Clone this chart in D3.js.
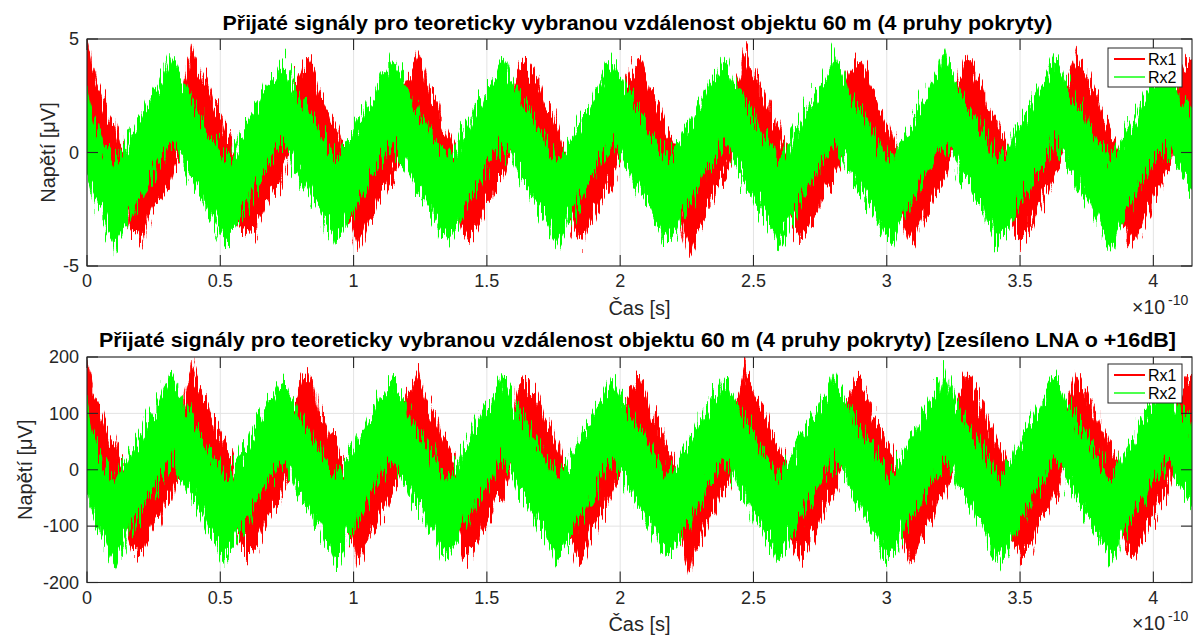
<!DOCTYPE html>
<html><head><meta charset="utf-8">
<script src="https://cdn.jsdelivr.net/npm/d3@7"></script>
<style>
body{margin:0;background:#fff}
svg{display:block}
text{font-family:"Liberation Sans",Arial,Helvetica,sans-serif}
</style>
</head><body>
<svg id="chart" width="1194" height="637"></svg>
<script>
// ---------------- data ----------------
const sampleStep = 0.02073;           // sampling interval of the envelope, in 1e-10 s
const xDomainMax = 4.145;             // right limit of the time axis, in 1e-10 s
const xTicks = [0, 0.5, 1, 1.5, 2, 2.5, 3, 3.5, 4];
const xTickLabels = ["0", "0.5", "1", "1.5", "2", "2.5", "3", "3.5", "4"];
const topYTicks = [-5, 0, 5];
const topYTickLabels = ["-5", "0", "5"];
const bottomYTicks = [-200, -100, 0, 100, 200];
const bottomYTickLabels = ["-200", "-100", "0", "100", "200"];
const seriesNames = ["Rx1", "Rx2"];
const titles = [
  "Přijaté signály pro teoreticky vybranou vzdálenost objektu 60 m (4 pruhy pokryty)",
  "Přijaté signály pro teoreticky vybranou vzdálenost objektu 60 m (4 pruhy pokryty) [zesíleno LNA o +16dB]"
];
const xLabel = "Čas [s]";
const yLabel = "Napětí [μV]";

// Top panel, μV: upper / lower envelope of the noisy signals
const rx1TopHi = [5.0,3.7,2.8,2.2,1.5,1.2,0.4,0.1,-0.5,-0.8,-0.5,-0.3,0.6,0.6,1.3,1.7,2.4,2.6,3.5,4.7,
3.9,3.3,2.9,2.0,1.8,1.0,0.7,0.0,-0.2,-0.9,-0.6,0.0,0.3,1.0,1.4,1.6,2.5,2.9,3.2,4.0,
4.2,3.6,2.6,2.3,1.5,1.2,0.5,0.3,-0.4,-0.7,-0.4,0.1,0.4,0.8,1.5,1.9,2.2,3.0,3.4,3.8,
4.4,3.5,2.7,2.4,1.6,1.1,0.6,0.2,-0.3,-0.8,-0.5,-0.1,0.5,0.9,1.3,1.8,2.3,2.8,3.6,3.9,
3.7,3.4,2.9,2.1,1.8,1.2,0.4,0.1,-0.3,-0.9,-0.6,-0.2,0.4,1.1,1.3,1.9,2.2,2.9,3.3,3.8,
4.1,3.5,2.6,2.2,1.7,1.0,0.6,0.0,-0.4,-0.8,-0.6,0.0,0.5,0.9,1.4,1.7,2.4,2.7,3.4,4.5,
3.9,3.3,2.8,2.3,1.5,1.1,0.5,0.2,-0.3,-0.9,-0.5,-0.1,0.4,1.0,1.4,1.8,2.3,3.0,3.5,4.0,
3.8,3.4,2.7,2.2,1.7,1.2,0.5,0.1,-0.4,-0.8,-0.5,0.0,0.5,0.8,1.4,1.8,2.4,2.8,3.5,4.2,
3.9,3.3,2.9,2.1,1.6,1.1,0.6,0.0,-0.3,-0.9,-0.6,-0.1,0.4,0.9,1.3,1.9,2.3,2.9,3.4,4.3,
3.8,3.4,2.8,2.2,1.6,1.0,0.6,0.1,-0.4,-0.8,-0.5,0.0,0.4,1.0,1.3,1.8,2.4,2.9,3.5,4.0,
4.1];
const rx1TopLo = [0.9,0.3,-0.4,-0.6,-1.4,-1.6,-2.3,-2.7,-3.6,-3.7,-4.0,-3.1,-2.4,-2.2,-1.6,-1.4,-0.5,-0.2,0.5,0.9,
0.8,0.2,-0.2,-0.9,-1.1,-1.7,-2.2,-3.0,-3.4,-3.6,-3.6,-3.2,-2.5,-2.0,-1.5,-1.2,-0.6,-0.1,0.4,0.8,
0.6,0.1,-0.3,-0.8,-1.2,-1.9,-2.1,-2.9,-3.3,-4.2,-3.7,-3.0,-2.6,-1.9,-1.7,-1.1,-0.7,0.0,0.3,0.9,
0.7,0.3,-0.4,-0.7,-1.3,-1.8,-2.3,-2.7,-3.5,-3.9,-3.5,-3.1,-2.4,-2.1,-1.5,-1.3,-0.6,0.0,0.4,0.8,
0.8,0.2,-0.3,-0.9,-1.2,-1.8,-2.2,-2.8,-3.3,-4.0,-3.8,-3.0,-2.6,-2.0,-1.6,-1.2,-0.5,-0.1,0.5,0.9,
0.6,0.2,-0.4,-0.7,-1.3,-1.8,-2.3,-2.8,-3.5,-4.5,-3.7,-3.2,-2.5,-2.0,-1.6,-1.1,-0.7,0.0,0.3,0.8,
0.7,0.2,-0.3,-0.8,-1.2,-1.9,-2.2,-2.9,-3.4,-3.8,-3.6,-3.1,-2.7,-2.0,-1.5,-1.2,-0.6,0.0,0.4,0.8,
0.6,0.3,-0.4,-0.8,-1.1,-1.8,-2.4,-2.7,-3.4,-4.1,-3.7,-3.0,-2.6,-2.1,-1.5,-1.2,-0.6,-0.1,0.4,0.9,
0.7,0.1,-0.3,-0.8,-1.3,-1.7,-2.3,-2.9,-3.5,-3.9,-3.6,-3.3,-2.5,-2.0,-1.6,-1.1,-0.6,0.0,0.3,0.8,
0.6,0.2,-0.4,-0.8,-1.2,-1.8,-2.2,-2.8,-3.4,-4.0,-3.7,-3.1,-2.6,-2.0,-1.6,-1.1,-0.6,0.0,0.4,0.8,
0.7];
const rx2TopHi = [2.9,1.4,0.9,0.4,0.1,-0.4,-0.1,0.3,0.8,1.3,1.7,2.2,2.6,3.0,3.6,4.2,3.7,3.1,2.8,2.3,
1.8,1.5,0.9,0.6,0.2,-0.3,-0.1,0.4,0.9,1.2,1.8,2.1,2.7,3.1,3.4,3.9,3.8,3.2,2.6,2.2,
1.9,1.4,1.0,0.5,0.1,-0.2,0.0,0.5,0.8,1.4,1.7,2.3,2.6,3.2,3.5,4.0,3.6,3.3,2.7,2.1,
1.8,1.5,0.8,0.6,0.1,-0.3,0.0,0.3,0.9,1.3,1.8,2.2,2.8,3.0,3.5,4.1,3.7,3.1,2.7,2.3,
1.9,1.3,1.0,0.5,0.2,-0.3,-0.1,0.4,0.8,1.3,1.8,2.1,2.7,3.1,3.6,4.1,3.6,3.2,2.6,2.2,
1.8,1.4,0.9,0.5,0.1,-0.2,0.0,0.4,0.9,1.2,1.7,2.2,2.7,3.2,3.4,4.0,3.8,3.1,2.7,2.2,
1.9,1.5,0.8,0.6,0.2,-0.3,-0.1,0.3,0.9,1.3,1.8,2.3,2.6,3.1,3.5,4.3,3.7,3.2,2.7,2.1,
1.9,1.4,1.0,0.5,0.1,-0.3,0.0,0.4,0.8,1.4,1.7,2.2,2.7,3.2,3.6,4.5,3.7,3.2,2.6,2.2,
1.8,1.4,0.9,0.5,0.1,-0.3,0.0,0.3,0.9,1.3,1.8,2.2,2.6,3.1,3.5,4.1,3.8,3.1,2.7,2.2,
1.9,1.4,0.9,0.5,0.2,-0.3,-0.1,0.4,0.9,1.3,1.7,2.3,2.7,3.1,3.5,4.1,3.7,3.1,2.6,2.2,
1.8];
const rx2TopLo = [-1.0,-1.9,-2.4,-2.9,-3.6,-4.3,-3.7,-3.2,-2.6,-2.2,-1.8,-1.3,-0.9,-0.5,-0.1,0.4,0.2,-0.3,-0.8,-1.2,
-1.6,-2.1,-2.6,-3.0,-3.5,-3.9,-3.6,-3.1,-2.7,-2.3,-1.8,-1.4,-0.9,-0.4,-0.1,0.3,0.1,-0.4,-0.9,-1.3,
-1.7,-2.2,-2.5,-3.1,-3.4,-4.0,-3.8,-3.0,-2.8,-2.2,-1.9,-1.3,-0.8,-0.5,0.0,0.3,0.1,-0.4,-0.8,-1.4,
-1.7,-2.0,-2.6,-3.0,-3.6,-3.8,-3.6,-3.2,-2.6,-2.1,-1.7,-1.4,-0.9,-0.4,-0.1,0.4,0.1,-0.3,-0.9,-1.3,
-1.6,-2.1,-2.6,-2.9,-3.5,-4.1,-3.7,-3.1,-2.7,-2.2,-1.8,-1.3,-0.9,-0.4,0.0,0.3,0.1,-0.4,-0.8,-1.3,
-1.7,-2.1,-2.5,-3.0,-3.5,-3.9,-3.7,-3.2,-2.6,-2.3,-1.8,-1.4,-0.8,-0.5,-0.1,0.4,0.2,-0.3,-0.9,-1.2,
-1.6,-2.2,-2.5,-3.1,-3.4,-4.0,-3.6,-3.1,-2.7,-2.2,-1.7,-1.3,-0.9,-0.4,-0.1,0.3,0.1,-0.4,-0.8,-1.3,
-1.7,-2.1,-2.6,-3.0,-3.6,-3.9,-3.7,-3.1,-2.6,-2.2,-1.8,-1.4,-0.9,-0.4,0.0,0.3,0.1,-0.3,-0.9,-1.2,
-1.6,-2.2,-2.5,-3.1,-3.5,-4.0,-3.6,-3.2,-2.6,-2.1,-1.8,-1.3,-0.9,-0.5,-0.1,0.4,0.1,-0.4,-0.8,-1.3,
-1.7,-2.1,-2.6,-3.0,-3.5,-4.1,-3.7,-3.1,-2.6,-2.2,-1.8,-1.4,-0.9,-0.4,-0.1,0.3,0.1,-0.4,-0.8,-1.3,
-1.7];

// Bottom panel (after LNA), μV
const rx1BotHi = [200,148,112,88,60,48,16,4,-20,-32,-20,-12,24,24,52,68,96,104,140,188,
156,132,116,80,72,40,28,0,-8,-36,-24,0,12,40,56,64,100,116,128,160,
168,144,104,92,60,48,20,12,-16,-28,-16,4,16,32,60,76,88,120,136,152,
176,140,108,96,64,44,24,8,-12,-32,-20,-4,20,36,52,72,92,112,144,156,
148,136,116,84,72,48,16,4,-12,-36,-24,-8,16,44,52,76,88,116,132,152,
164,140,104,88,68,40,24,0,-16,-32,-24,0,20,36,56,68,96,108,136,180,
156,132,112,92,60,44,20,8,-12,-36,-20,-4,16,40,56,72,92,120,140,160,
152,136,108,88,68,48,20,4,-16,-32,-20,0,20,32,56,72,96,112,140,168,
156,132,116,84,64,44,24,0,-12,-36,-24,-4,16,36,52,76,92,116,136,172,
152,136,112,88,64,40,24,4,-16,-32,-20,0,16,40,52,72,96,116,140,160,
164];
const rx1BotLo = [36,12,-16,-24,-56,-64,-92,-108,-144,-148,-160,-124,-96,-88,-64,-56,-20,-8,20,36,
32,8,-8,-36,-44,-68,-88,-120,-136,-144,-144,-128,-100,-80,-60,-48,-24,-4,16,32,
24,4,-12,-32,-48,-76,-84,-116,-132,-168,-148,-120,-104,-76,-68,-44,-28,0,12,36,
28,12,-16,-28,-52,-72,-92,-108,-140,-156,-140,-124,-96,-84,-60,-52,-24,0,16,32,
32,8,-12,-36,-48,-72,-88,-112,-132,-160,-152,-120,-104,-80,-64,-48,-20,-4,20,36,
24,8,-16,-28,-52,-72,-92,-112,-140,-180,-148,-128,-100,-80,-64,-44,-28,0,12,32,
28,8,-12,-32,-48,-76,-88,-116,-136,-152,-144,-124,-108,-80,-60,-48,-24,0,16,32,
24,12,-16,-32,-44,-72,-96,-108,-136,-164,-148,-120,-104,-84,-60,-48,-24,-4,16,36,
28,4,-12,-32,-52,-68,-92,-116,-140,-156,-144,-132,-100,-80,-64,-44,-24,0,12,32,
24,8,-16,-32,-48,-72,-88,-112,-136,-160,-148,-124,-104,-80,-64,-44,-24,0,16,32,
28];
const rx2BotHi = [116,56,36,16,4,-16,-4,12,32,52,68,88,104,120,144,168,148,124,112,92,
72,60,36,24,8,-12,-4,16,36,48,72,84,108,124,136,156,152,128,104,88,
76,56,40,20,4,-8,0,20,32,56,68,92,104,128,140,160,144,132,108,84,
72,60,32,24,4,-12,0,12,36,52,72,88,112,120,140,164,148,124,108,92,
76,52,40,20,8,-12,-4,16,32,52,72,84,108,124,144,164,144,128,104,88,
72,56,36,20,4,-8,0,16,36,48,68,88,108,128,136,160,152,124,108,88,
76,60,32,24,8,-12,-4,12,36,52,72,92,104,124,140,172,148,128,108,84,
76,56,40,20,4,-12,0,16,32,56,68,88,108,128,144,180,148,128,104,88,
72,56,36,20,4,-12,0,12,36,52,72,88,104,124,140,164,152,124,108,88,
76,56,36,20,8,-12,-4,16,36,52,68,92,108,124,140,164,148,124,104,88,
72];
const rx2BotLo = [-40,-76,-96,-116,-144,-172,-148,-128,-104,-88,-72,-52,-36,-20,-4,16,8,-12,-32,-48,
-64,-84,-104,-120,-140,-156,-144,-124,-108,-92,-72,-56,-36,-16,-4,12,4,-16,-36,-52,
-68,-88,-100,-124,-136,-160,-152,-120,-112,-88,-76,-52,-32,-20,0,12,4,-16,-32,-56,
-68,-80,-104,-120,-144,-152,-144,-128,-104,-84,-68,-56,-36,-16,-4,16,4,-12,-36,-52,
-64,-84,-104,-116,-140,-164,-148,-124,-108,-88,-72,-52,-36,-16,0,12,4,-16,-32,-52,
-68,-84,-100,-120,-140,-156,-148,-128,-104,-92,-72,-56,-32,-20,-4,16,8,-12,-36,-48,
-64,-88,-100,-124,-136,-160,-144,-124,-108,-88,-68,-52,-36,-16,-4,12,4,-16,-32,-52,
-68,-84,-104,-120,-144,-156,-148,-124,-104,-88,-72,-56,-36,-16,0,12,4,-12,-36,-48,
-64,-88,-100,-124,-140,-160,-144,-128,-104,-84,-72,-52,-36,-20,-4,16,4,-16,-32,-52,
-68,-84,-104,-120,-140,-164,-148,-124,-104,-88,-72,-56,-36,-16,-4,12,4,-16,-32,-52,
-68];

// ---------------- drawing ----------------
const svg = d3.select("#chart");
const colors = ["#ff0000", "#00ff00"];
const axisColor = "#262626";

// rendering texture: makes the envelope edges look like a dense noisy trace
const defs = svg.append("defs");
const filt = defs.append("filter").attr("id", "trace").attr("x", "-2%").attr("y", "-40%")
  .attr("width", "104%").attr("height", "180%").attr("color-interpolation-filters", "sRGB");
filt.append("feTurbulence").attr("type", "fractalNoise").attr("baseFrequency", "0.55 0.035")
  .attr("numOctaves", 2).attr("seed", 7).attr("result", "n");
filt.append("feColorMatrix").attr("in", "n").attr("type", "matrix")
  .attr("values", "0 0 0 0 0.5  1 0 0 0 0  0 0 0 0 0  0 0 0 0 1").attr("result", "m");
filt.append("feDisplacementMap").attr("in", "SourceGraphic").attr("in2", "m")
  .attr("scale", 55).attr("xChannelSelector", "R").attr("yChannelSelector", "G");

const panels = [
  { top: 39, bottom: 266, yDomain: [-5, 5], yTicks: topYTicks, yTickLabels: topYTickLabels,
    title: titles[0], titleWidth: 830, titleY: 29.5, yLabelX: 54.5, legendY: 48,
    series: [[rx1TopHi, rx1TopLo], [rx2TopHi, rx2TopLo]] },
  { top: 357, bottom: 582.5, yDomain: [-200, 200], yTicks: bottomYTicks, yTickLabels: bottomYTickLabels,
    title: titles[1], titleWidth: 1077, titleY: 347, yLabelX: 31.5, legendY: 364,
    series: [[rx1BotHi, rx1BotLo], [rx2BotHi, rx2BotLo]] }
];
const left = 87, right = 1192;

panels.forEach((p, pi) => {
  const x = d3.scaleLinear().domain([0, xDomainMax]).range([left, right]);
  const y = d3.scaleLinear().domain(p.yDomain).range([p.bottom, p.top]);
  const g = svg.append("g");

  const clipId = "clip" + pi;
  defs.append("clipPath").attr("id", clipId).append("rect")
    .attr("x", left).attr("y", p.top).attr("width", right - left).attr("height", p.bottom - p.top);

  // grid
  const grid = g.append("g").attr("stroke", "#e3e3e3").attr("stroke-width", 1);
  xTicks.forEach(t => grid.append("line")
    .attr("x1", x(t)).attr("x2", x(t)).attr("y1", p.top).attr("y2", p.bottom));
  p.yTicks.forEach(t => grid.append("line")
    .attr("x1", left).attr("x2", right).attr("y1", y(t)).attr("y2", y(t)));

  // signals
  const dataG = g.append("g").attr("clip-path", `url(#${clipId})`);
  p.series.forEach((s, si) => {
    const hi = s[0], lo = s[1];
    const n = Math.min(hi.length, lo.length);
    const pts = d3.range(n).map(i => ({ t: i * sampleStep, hi: hi[i], lo: lo[i] }));
    const area = d3.area().x(d => x(d.t)).y0(d => y(d.lo)).y1(d => y(d.hi)).curve(d3.curveLinear);
    dataG.append("path").attr("d", area(pts))
      .attr("fill", colors[si]).attr("stroke", colors[si]).attr("stroke-width", 0.6)
      .attr("filter", "url(#trace)");
  });

  // box
  g.append("rect").attr("x", left).attr("y", p.top).attr("width", right - left)
    .attr("height", p.bottom - p.top).attr("fill", "none")
    .attr("stroke", axisColor).attr("stroke-width", 1.1);

  // ticks
  const tl = 11;
  const tg = g.append("g").attr("stroke", axisColor).attr("stroke-width", 1.1);
  xTicks.forEach(t => {
    tg.append("line").attr("x1", x(t)).attr("x2", x(t)).attr("y1", p.bottom).attr("y2", p.bottom - tl);
    tg.append("line").attr("x1", x(t)).attr("x2", x(t)).attr("y1", p.top).attr("y2", p.top + tl);
  });
  p.yTicks.forEach(t => {
    tg.append("line").attr("x1", left).attr("x2", left + tl).attr("y1", y(t)).attr("y2", y(t));
    tg.append("line").attr("x1", right).attr("x2", right - tl).attr("y1", y(t)).attr("y2", y(t));
  });

  // tick labels
  xTicks.forEach((t, i) => g.append("text").attr("x", x(t)).attr("y", p.bottom + 21)
    .attr("text-anchor", "middle").attr("font-size", 18).attr("fill", axisColor).text(xTickLabels[i]));
  p.yTicks.forEach((t, i) => g.append("text").attr("x", 79).attr("y", y(t) + 6.3)
    .attr("text-anchor", "end").attr("font-size", 18).attr("fill", axisColor).text(p.yTickLabels[i]));

  // exponent
  const ex = g.append("text").attr("x", 1132).attr("y", p.bottom + 47.5)
    .attr("font-size", 19.5).attr("fill", axisColor);
  ex.append("tspan").text("×10");
  ex.append("tspan").attr("font-size", 14).attr("dy", -9).attr("dx", 3).text("-10");

  // axis labels
  g.append("text").attr("x", (left + right) / 2).attr("y", p.bottom + 48.5)
    .attr("text-anchor", "middle").attr("font-size", 20).attr("fill", axisColor).text(xLabel);
  g.append("text").attr("transform", `translate(${p.yLabelX},${(p.top + p.bottom) / 2}) rotate(-90)`)
    .attr("text-anchor", "middle").attr("font-size", 20).attr("fill", axisColor).text(yLabel);

  // title
  g.append("text").attr("x", (left + right) / 2 - 2).attr("y", p.titleY)
    .attr("text-anchor", "middle").attr("font-size", 19.5).attr("font-weight", "bold")
    .attr("fill", "#000").attr("textLength", p.titleWidth).attr("lengthAdjust", "spacingAndGlyphs")
    .text(p.title);

  // legend
  const lx = 1108, ly = p.legendY;
  const lg = g.append("g");
  lg.append("rect").attr("x", lx).attr("y", ly).attr("width", 74).attr("height", 39)
    .attr("fill", "#fff").attr("stroke", axisColor).attr("stroke-width", 1);
  seriesNames.forEach((name, si) => {
    const yy = ly + 11 + si * 18;
    lg.append("line").attr("x1", lx + 6).attr("x2", lx + 37).attr("y1", yy).attr("y2", yy)
      .attr("stroke", colors[si]).attr("stroke-width", si === 0 ? 2 : 1.4);
    lg.append("text").attr("x", lx + 40).attr("y", yy + 5.8).attr("font-size", 16)
      .attr("fill", "#000").text(name);
  });
});
</script>
</body></html>
